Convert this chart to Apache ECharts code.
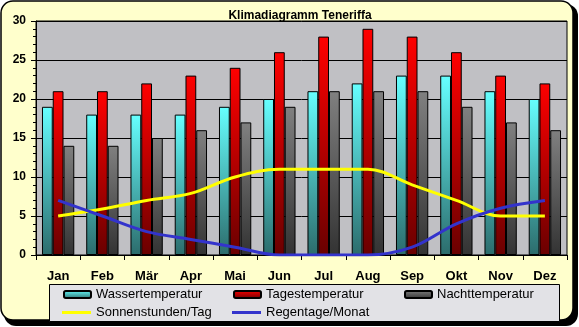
<!DOCTYPE html>
<html>
<head>
<meta charset="utf-8">
<script src="https://cdn.jsdelivr.net/npm/echarts@6/dist/echarts.min.js"></script>
<style>
html,body{margin:0;padding:0;background:#fff;}
#chart{width:579px;height:327px;}
</style>
</head>
<body>
<div id="chart"></div>
<script>
const months = ['Jan','Feb','Mär','Apr','Mai','Jun','Jul','Aug','Sep','Okt','Nov','Dez'];
const wasser = [19,18,18,18,19,20,21,22,23,23,21,20];
const tages = [21,21,22,23,24,26,28,29,28,26,23,22];
const nacht = [14,14,15,16,17,19,21,21,21,19,17,16];
const sonne = [5,5.9,7,7.9,10,11,11,11,9,7,5,5];
const regen = [7,5,3,2,1,0,0,0,1,4,6,7];
const yTicks = [0,5,10,15,20,25,30];

const FONT = "'Liberation Sans', Arial, sans-serif";
function grad(top, bottom){
  return new echarts.graphic.LinearGradient(0,0,0,1,[{offset:0,color:top},{offset:1,color:bottom}]);
}
const chart = echarts.init(document.getElementById('chart'), null, {renderer:'canvas'});
const legendBase = {
  orient:'horizontal', itemWidth:27, itemHeight:7, itemGap:5,
  textStyle:{fontFamily:FONT, fontSize:13, color:'#000'},
  selectedMode:false, padding:0, z:10
};
chart.setOption({
  backgroundColor:'#fff',
  animation:false,
  title:{
    text:'Klimadiagramm Teneriffa', left:295, top:5, textAlign:'center',
    textStyle:{fontFamily:FONT, fontSize:12, fontWeight:'bold', color:'#000'}
  },
  graphic:[
    {type:'rect', z:-10, shape:{x:4,y:4,width:574,height:322,r:12}, style:{fill:'#000'}},
    {type:'rect', z:-9, shape:{x:1,y:1,width:572,height:319,r:12}, style:{fill:'#FFFFCC', stroke:'#000', lineWidth:1.5}},
    {type:'rect', z:1, shape:{x:49.5,y:284.5,width:510,height:37}, style:{fill:'#E2E2E6', stroke:'#000', lineWidth:1}}
  ],
  grid:{left:36, right:12, top:21, bottom:72, show:true, backgroundColor:'#C0C0C4', borderColor:'#000', borderWidth:1},
  xAxis:{
    type:'category', data:months, boundaryGap:true,
    axisLine:{lineStyle:{color:'#000', width:1}},
    axisTick:{show:true, length:5, alignWithLabel:false, lineStyle:{color:'#000'}},
    axisLabel:{fontFamily:FONT, fontSize:13, fontWeight:'bold', color:'#000', margin:15}
  },
  yAxis:{
    type:'value', min:yTicks[0], max:yTicks[yTicks.length-1], interval:5,
    axisLine:{show:true, lineStyle:{color:'#000'}},
    axisTick:{show:true, length:5, lineStyle:{color:'#000'}},
    minorTick:{show:true, splitNumber:5, length:3, lineStyle:{color:'#000'}},
    splitLine:{show:true, lineStyle:{color:'#000', width:1}},
    axisLabel:{fontFamily:FONT, fontSize:12, fontWeight:'bold', color:'#000', margin:10}
  },
  legend:[
    Object.assign({}, legendBase, {data:['Wassertemperatur'], left:63, top:288}),
    Object.assign({}, legendBase, {data:['Tagestemperatur'], left:233, top:288}),
    Object.assign({}, legendBase, {data:['Nachttemperatur'], left:404, top:288}),
    Object.assign({}, legendBase, {data:[{name:'Sonnenstunden/Tag', icon:'rect'}], left:62, top:306, itemWidth:29, itemHeight:3}),
    Object.assign({}, legendBase, {data:[{name:'Regentage/Monat', icon:'rect'}], left:232, top:306, itemWidth:29, itemHeight:3})
  ],
  series:[
    {name:'Wassertemperatur', type:'bar', data:wasser, barGap:'0%', barCategoryGap:'27%',
     itemStyle:{color:grad('#66FFFF','#2C6C6C'), borderColor:'#000', borderWidth:1}},
    {name:'Tagestemperatur', type:'bar', data:tages, barGap:'0%', barCategoryGap:'27%',
     itemStyle:{color:grad('#FF0000','#6A0000'), borderColor:'#000', borderWidth:1}},
    {name:'Nachttemperatur', type:'bar', data:nacht, barGap:'0%', barCategoryGap:'27%',
     itemStyle:{color:grad('#808080','#333333'), borderColor:'#000', borderWidth:1}},
    {name:'Sonnenstunden/Tag', type:'line', data:sonne, smooth:0.35, symbol:'none', z:5,
     lineStyle:{color:'#FFFF00', width:3}, itemStyle:{color:'#FFFF00', borderWidth:0}},
    {name:'Regentage/Monat', type:'line', data:regen, smooth:0.35, symbol:'none', z:5,
     lineStyle:{color:'#3333CC', width:3}, itemStyle:{color:'#3333CC', borderWidth:0}}
  ]
});
</script>
</body>
</html>
